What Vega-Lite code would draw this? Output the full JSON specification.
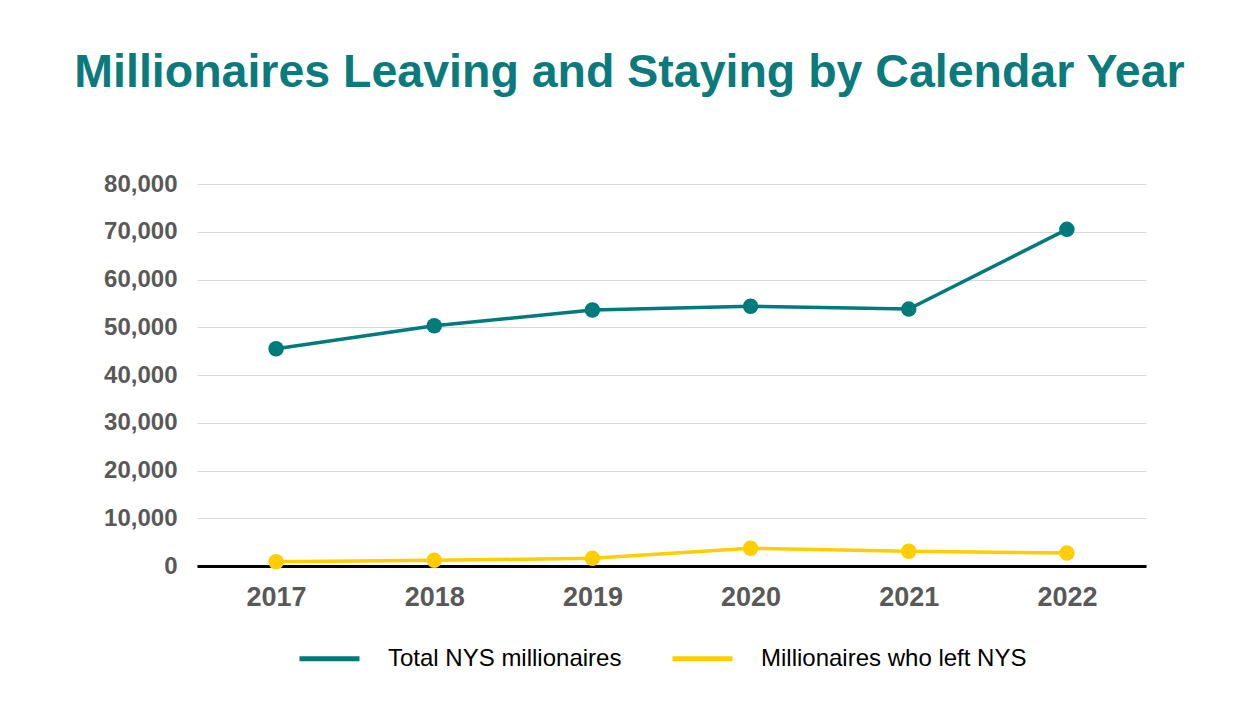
{
  "$schema": "https://vega.github.io/schema/vega-lite/v6.json",
  "autosize": {"type": "none"},
  "width": 949,
  "height": 382,
  "padding": {"left": 197, "top": 184, "right": 104, "bottom": 136},
  "background": "white",
  "title": {
    "text": "Millionaires  Leaving and Staying by Calendar Year",
    "font": "Liberation Sans",
    "fontSize": 46.5,
    "fontWeight": "bold",
    "color": "#0B7A7C",
    "anchor": "middle",
    "frame": "group",
    "dx": -42,
    "offset": 76
  },
  "data": {
    "values": [
      {"year": "2017", "series": "Total NYS millionaires", "value": 45500},
      {"year": "2018", "series": "Total NYS millionaires", "value": 50300},
      {"year": "2019", "series": "Total NYS millionaires", "value": 53600},
      {"year": "2020", "series": "Total NYS millionaires", "value": 54400},
      {"year": "2021", "series": "Total NYS millionaires", "value": 53800},
      {"year": "2022", "series": "Total NYS millionaires", "value": 70500},
      {"year": "2017", "series": "Millionaires who left NYS", "value": 900},
      {"year": "2018", "series": "Millionaires who left NYS", "value": 1200},
      {"year": "2019", "series": "Millionaires who left NYS", "value": 1600},
      {"year": "2020", "series": "Millionaires who left NYS", "value": 3700},
      {"year": "2021", "series": "Millionaires who left NYS", "value": 3100},
      {"year": "2022", "series": "Millionaires who left NYS", "value": 2700}
    ]
  },
  "encoding": {
    "x": {
      "field": "year",
      "type": "ordinal",
      "scale": {"type": "point", "padding": 0.5},
      "axis": {
        "title": null,
        "labelAngle": 0,
        "labelFont": "Liberation Sans",
        "labelFontSize": 27,
        "labelFontWeight": "bold",
        "labelColor": "#595959",
        "labelPadding": 18,
        "ticks": false,
        "domain": true,
        "domainColor": "#000000",
        "domainWidth": 3,
        "grid": false
      }
    },
    "y": {
      "field": "value",
      "type": "quantitative",
      "scale": {"domain": [0, 80000], "nice": false},
      "axis": {
        "title": null,
        "values": [0, 10000, 20000, 30000, 40000, 50000, 60000, 70000, 80000],
        "format": ",d",
        "labelFont": "Liberation Sans",
        "labelFontSize": 24,
        "labelFontWeight": "bold",
        "labelColor": "#595959",
        "labelPadding": 20,
        "ticks": false,
        "domain": false,
        "grid": true,
        "gridColor": "#D9D9D9",
        "gridWidth": 1.2
      }
    },
    "color": {
      "field": "series",
      "type": "nominal",
      "scale": {
        "domain": ["Total NYS millionaires", "Millionaires who left NYS"],
        "range": ["#007A7B", "#FFCD00"]
      },
      "legend": {
        "title": null,
        "orient": "none",
        "direction": "horizontal",
        "legendX": 100,
        "legendY": 442,
        "symbolType": "stroke",
        "symbolSize": 3600,
        "symbolStrokeWidth": 5,
        "labelFont": "Liberation Sans",
        "labelFontSize": 24,
        "labelColor": "#000000",
        "labelLimit": 0,
        "labelOffset": 26,
        "columnPadding": 40,
        "padding": 0
      }
    }
  },
  "layer": [
    {"mark": {"type": "line", "strokeWidth": 3.5}},
    {"mark": {"type": "point", "filled": true, "opacity": 1, "size": 240}}
  ],
  "config": {"view": {"stroke": null}}
}
